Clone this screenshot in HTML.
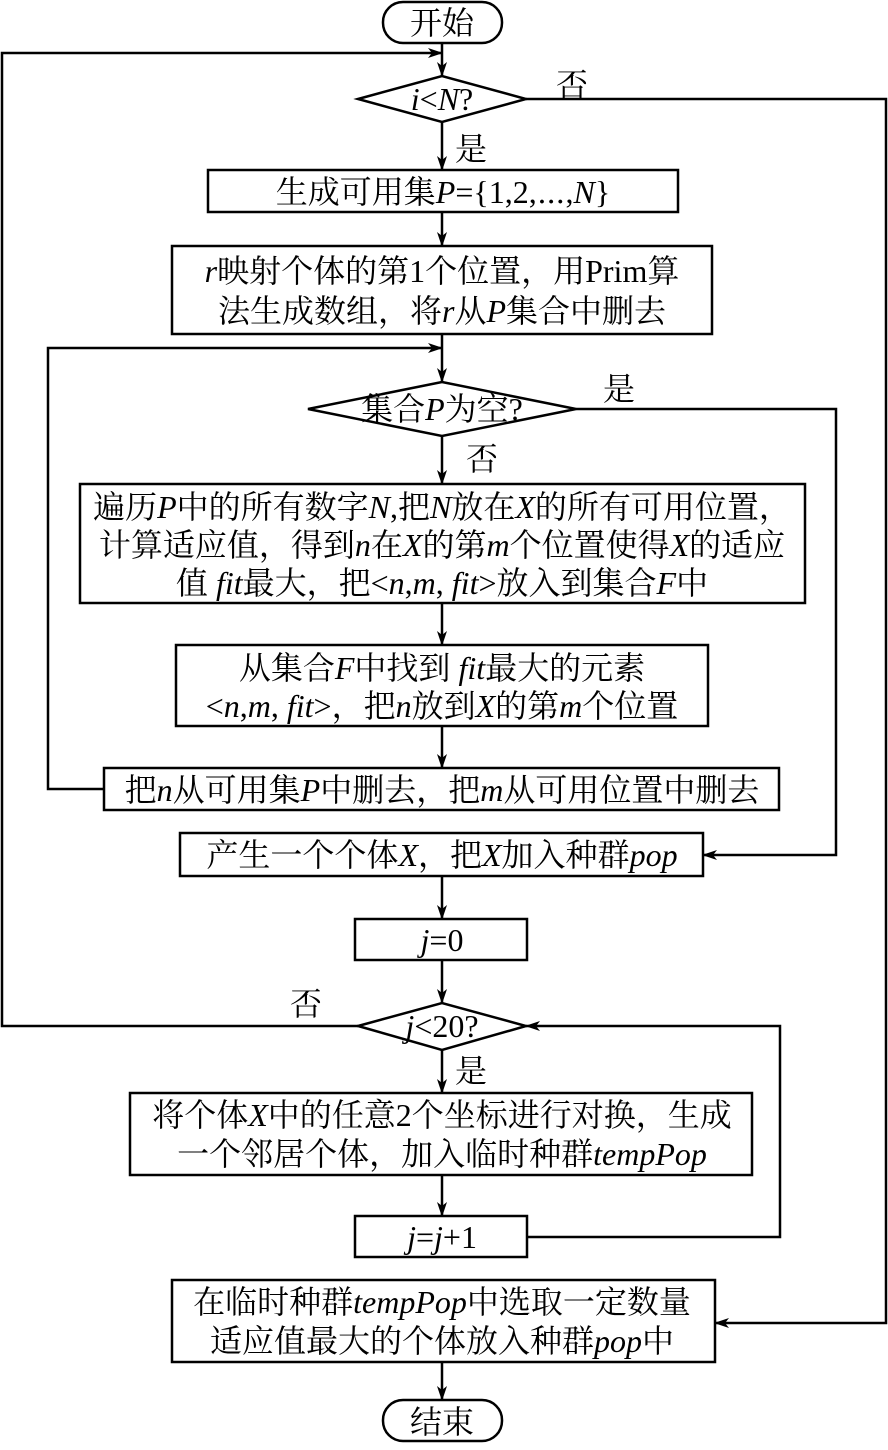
<!DOCTYPE html>
<html><head><meta charset="utf-8"><style>
html,body{margin:0;padding:0;background:#fff;}
svg text{font-family:"Liberation Serif","Noto Serif CJK SC",serif;font-size:32px;fill:#000;}
.i{font-style:italic;}
</style></head><body>
<svg width="888" height="1445" viewBox="0 0 888 1445" xmlns="http://www.w3.org/2000/svg">
<defs><marker id="a" markerWidth="15" markerHeight="10" refX="14" refY="5" orient="auto" markerUnits="userSpaceOnUse"><path d="M0,0 L15,5 L0,10 L4,5 z" fill="#000"/></marker></defs>
<g fill="none" stroke="#000" stroke-width="2.5">
<rect x="383" y="2" width="119" height="41" rx="20"/>
<polygon points="358,99 442,76 526,99 442,122"/>
<rect x="208" y="170" width="470" height="42"/>
<rect x="172" y="246" width="540" height="88"/>
<polygon points="308,409 442,382 576,409 442,436"/>
<rect x="80" y="484" width="725" height="119"/>
<rect x="176" y="645" width="532" height="81"/>
<rect x="104" y="768" width="675" height="42"/>
<rect x="180" y="833" width="523" height="43"/>
<rect x="355" y="919" width="172" height="41"/>
<polygon points="358,1026 442,1003 526,1026 442,1050"/>
<rect x="130" y="1093" width="622" height="82"/>
<rect x="355" y="1216" width="172" height="41"/>
<rect x="172" y="1280" width="543" height="82"/>
<rect x="383" y="1400" width="119" height="41" rx="20"/>
<line x1="442" y1="43" x2="442" y2="76" marker-end="url(#a)"/>
<line x1="442" y1="122" x2="442" y2="170" marker-end="url(#a)"/>
<line x1="442" y1="212" x2="442" y2="246" marker-end="url(#a)"/>
<line x1="442" y1="334" x2="442" y2="382" marker-end="url(#a)"/>
<line x1="442" y1="436" x2="442" y2="484" marker-end="url(#a)"/>
<line x1="442" y1="603" x2="442" y2="645" marker-end="url(#a)"/>
<line x1="442" y1="726" x2="442" y2="768" marker-end="url(#a)"/>
<line x1="442" y1="876" x2="442" y2="919" marker-end="url(#a)"/>
<line x1="442" y1="960" x2="442" y2="1003" marker-end="url(#a)"/>
<line x1="442" y1="1050" x2="442" y2="1093" marker-end="url(#a)"/>
<line x1="442" y1="1175" x2="442" y2="1216" marker-end="url(#a)"/>
<line x1="442" y1="1362" x2="442" y2="1400" marker-end="url(#a)"/>
<polyline points="104,789 48,789 48,348 442,348" marker-end="url(#a)"/>
<polyline points="576,409 836,409 836,855 703,855" marker-end="url(#a)"/>
<polyline points="358,1026 2,1026 2,53 442,53" marker-end="url(#a)"/>
<polyline points="527,1237 780,1237 780,1026 526,1026" marker-end="url(#a)"/>
<polyline points="526,99 886,99 886,1323 715,1323" marker-end="url(#a)"/>
</g>
<g text-anchor="middle">
<text x="442" y="34">开始</text>
<text x="442" y="110"><tspan class="i">i</tspan>&lt;<tspan class="i">N</tspan>?</text>
<text x="443" y="203">生成可用集<tspan class="i">P</tspan>={1,2,⋯,<tspan class="i">N</tspan>}</text>
<text x="442" y="282"><tspan class="i">r</tspan>映射个体的第1个位置，用Prim算</text>
<text x="442" y="322">法生成数组，将<tspan class="i">r</tspan>从<tspan class="i">P</tspan>集合中删去</text>
<text x="442" y="420">集合<tspan class="i">P</tspan>为空?</text>
<text x="442" y="518">遍历<tspan class="i">P</tspan>中的所有数字<tspan class="i">N</tspan>,把<tspan class="i">N</tspan>放在<tspan class="i">X</tspan>的所有可用位置，</text>
<text x="442" y="556">计算适应值，得到<tspan class="i">n</tspan>在<tspan class="i">X</tspan>的第<tspan class="i">m</tspan>个位置使得<tspan class="i">X</tspan>的适应</text>
<text x="442" y="594">值 <tspan class="i">fit</tspan>最大，把&lt;<tspan class="i">n</tspan>,<tspan class="i">m</tspan>, <tspan class="i">fit</tspan>&gt;放入到集合<tspan class="i">F</tspan>中</text>
<text x="442" y="679">从集合<tspan class="i">F</tspan>中找到 <tspan class="i">fit</tspan>最大的元素</text>
<text x="442" y="717">&lt;<tspan class="i">n</tspan>,<tspan class="i">m</tspan>, <tspan class="i">fit</tspan>&gt;，把<tspan class="i">n</tspan>放到<tspan class="i">X</tspan>的第<tspan class="i">m</tspan>个位置</text>
<text x="442" y="801">把<tspan class="i">n</tspan>从可用集<tspan class="i">P</tspan>中删去，把<tspan class="i">m</tspan>从可用位置中删去</text>
<text x="442" y="866">产生一个个体<tspan class="i">X</tspan>，把<tspan class="i">X</tspan>加入种群<tspan class="i">pop</tspan></text>
<text x="442" y="951"><tspan class="i">j</tspan>=0</text>
<text x="442" y="1037"><tspan class="i">j</tspan>&lt;20?</text>
<text x="442" y="1126">将个体<tspan class="i">X</tspan>中的任意2个坐标进行对换，生成</text>
<text x="442" y="1165">一个邻居个体，加入临时种群<tspan class="i">tempPop</tspan></text>
<text x="442" y="1248"><tspan class="i">j</tspan>=<tspan class="i">j</tspan>+1</text>
<text x="442" y="1313">在临时种群<tspan class="i">tempPop</tspan>中选取一定数量</text>
<text x="442" y="1352">适应值最大的个体放入种群<tspan class="i">pop</tspan>中</text>
<text x="442" y="1433">结束</text>
</g>
<text x="556" y="96">否</text>
<text x="455" y="160">是</text>
<text x="603" y="400">是</text>
<text x="466" y="470">否</text>
<text x="290" y="1015">否</text>
<text x="455" y="1082">是</text>
</svg>
</body></html>
